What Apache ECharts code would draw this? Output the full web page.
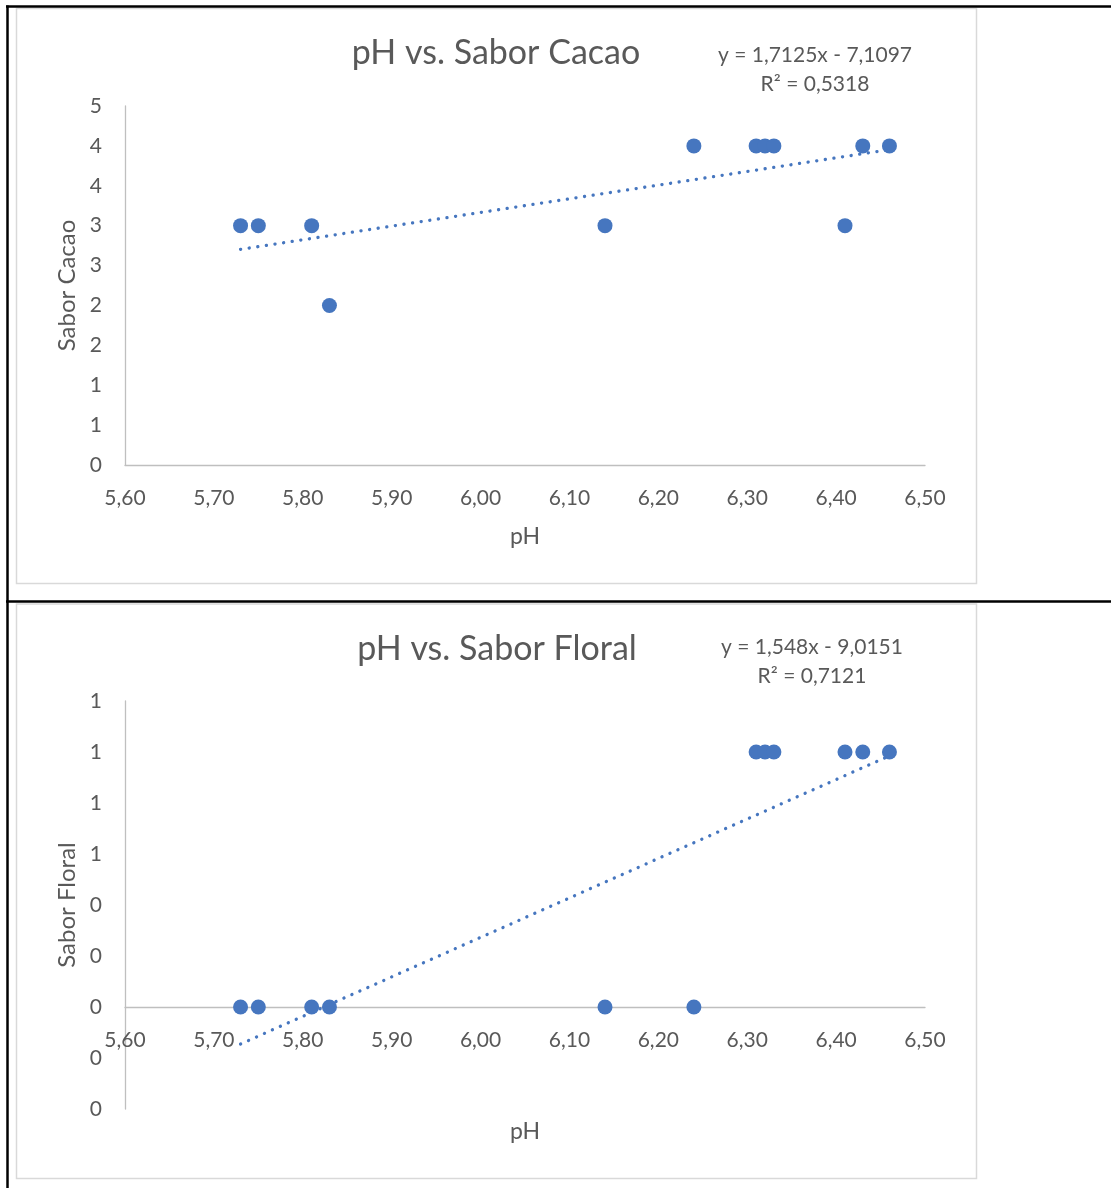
<!DOCTYPE html>
<html>
<head>
<meta charset="utf-8">
<script src="https://cdn.jsdelivr.net/npm/echarts@6/dist/echarts.min.js"></script>
<style>
  html, body { margin: 0; padding: 0; background: #ffffff; }
  #chart { width: 1111px; height: 1188px; }
</style>
</head>
<body>
<div id="chart"></div>
<script>
// ---- data ----
const phValues      = [5.73, 5.75, 5.81, 5.83, 6.14, 6.24, 6.31, 6.32, 6.33, 6.41, 6.43, 6.46];
const saborCacao    = [3, 3, 3, 2, 3, 4, 4, 4, 4, 3, 4, 4];
const saborFloral   = [0, 0, 0, 0, 0, 0, 1, 1, 1, 1, 1, 1];
const trendCacao    = [1.7125, -7.1097];   // slope, intercept (from the chart's equation)
const trendFloral   = [1.548, -9.0151];
const eqCacao       = ['y = 1,7125x - 7,1097', 'R² = 0,5318'];
const eqFloral      = ['y = 1,548x - 9,0151', 'R² = 0,7121'];
const titles        = ['pH vs. Sabor Cacao', 'pH vs. Sabor Floral'];
const yNames        = ['Sabor Cacao', 'Sabor Floral'];
const xName         = 'pH';

// ---- build ----
const FONT = 'Lato';
const TXT = '#595959';
const AX = '#bfbfbf';
const BLUE = '#4676bf';

function pairs(xs, ys) { return xs.map((x, i) => [x, ys[i]]); }
function trend(coef, xs) {
  const lo = Math.min(...xs), hi = Math.max(...xs);
  return [[lo, coef[0] * lo + coef[1]], [hi, coef[0] * hi + coef[1]]];
}
const xFmt = v => v.toFixed(2).replace('.', ',');
const yFmt = v => String(Math.round(v) === 0 ? 0 : Math.round(v));

function xAxis(idx, nameGap, offset) {
  return {
    type: 'value', gridIndex: idx, min: 5.6, max: 6.5, interval: 0.1, offset: offset,
    name: xName, nameLocation: 'middle', nameGap: nameGap,
    nameTextStyle: { color: TXT, fontFamily: FONT, fontSize: 23 },
    axisLine: { show: true, onZero: false, lineStyle: { color: AX, width: 1.3 } },
    axisTick: { show: false }, splitLine: { show: false },
    axisLabel: { formatter: xFmt, color: TXT, fontFamily: FONT, fontSize: 21, margin: 23,
                 showMinLabel: true, showMaxLabel: true, hideOverlap: false }
  };
}
function yAxis(idx, min, max, interval) {
  return {
    type: 'value', gridIndex: idx, min: min, max: max, interval: interval,
    name: yNames[idx], nameLocation: 'middle', nameRotate: 90, nameGap: 46,
    nameTextStyle: { color: TXT, fontFamily: FONT, fontSize: 24 },
    axisLine: { show: true, onZero: false, lineStyle: { color: AX, width: 1.3 } },
    axisTick: { show: false }, splitLine: { show: false },
    axisLabel: { formatter: yFmt, color: TXT, fontFamily: FONT, fontSize: 21, margin: 23,
                 showMinLabel: true, showMaxLabel: true, hideOverlap: false }
  };
}
function eqText(lines, cx, y1, y2) {
  return [
    { type: 'text', x: cx, y: y1, style: { text: lines[0], fill: TXT, font: '21px ' + FONT, align: 'center', verticalAlign: 'middle' } },
    { type: 'text', x: cx, y: y2, style: { text: lines[1], fill: TXT, font: '21px ' + FONT, align: 'center', verticalAlign: 'middle' } }
  ];
}

const option = {
  animation: false,
  backgroundColor: '#ffffff',
  title: [
    { text: titles[0], left: 491, top: 31, textAlign: 'center',
      textStyle: { color: TXT, fontFamily: FONT, fontSize: 34, fontWeight: 'normal' } },
    { text: titles[1], left: 492, top: 627, textAlign: 'center',
      textStyle: { color: TXT, fontFamily: FONT, fontSize: 34, fontWeight: 'normal' } }
  ],
  grid: [
    { left: 125, top: 106, width: 800, height: 359, containLabel: false, outerBoundsMode: 'none' },
    { left: 125, top: 701, width: 800, height: 408, containLabel: false, outerBoundsMode: 'none' }
  ],
  xAxis: [xAxis(0, 60, 0), xAxis(1, 113, -102)],
  yAxis: [yAxis(0, 0, 4.5, 0.5), yAxis(1, -0.4, 1.2, 0.2)],
  series: [
    { type: 'scatter', xAxisIndex: 0, yAxisIndex: 0, data: pairs(phValues, saborCacao),
      symbol: 'circle', symbolSize: 15, itemStyle: { color: BLUE, opacity: 1 }, z: 2 },
    { type: 'line', xAxisIndex: 0, yAxisIndex: 0, data: trend(trendCacao, phValues),
      showSymbol: false, symbol: 'none', z: 3,
      lineStyle: { color: BLUE, width: 3.3, type: [0.1, 8.6], cap: 'round' } },
    { type: 'scatter', xAxisIndex: 1, yAxisIndex: 1, data: pairs(phValues, saborFloral),
      symbol: 'circle', symbolSize: 15, itemStyle: { color: BLUE, opacity: 1 }, z: 2 },
    { type: 'line', xAxisIndex: 1, yAxisIndex: 1, data: trend(trendFloral, phValues),
      showSymbol: false, symbol: 'none', z: 3,
      lineStyle: { color: BLUE, width: 3.3, type: [0.1, 8.6], cap: 'round' } }
  ],
  graphic: [
    // chart frames
    { type: 'rect', silent: true, z: -10, shape: { x: 16.5, y: 8.5, width: 960, height: 575 },
      style: { fill: '#ffffff', stroke: '#d9d9d9', lineWidth: 1.5 } },
    { type: 'rect', silent: true, z: -10, shape: { x: 16.5, y: 604, width: 960, height: 574.5 },
      style: { fill: '#ffffff', stroke: '#d9d9d9', lineWidth: 1.5 } },
    // table borders
    { type: 'line', silent: true, z: 50, shape: { x1: 6, y1: 6.5, x2: 1111, y2: 6.5 }, style: { stroke: '#000', lineWidth: 2.5 } },
    { type: 'line', silent: true, z: 50, shape: { x1: 7.5, y1: 5.5, x2: 7.5, y2: 1188 }, style: { stroke: '#000', lineWidth: 2.5 } },
    { type: 'line', silent: true, z: 50, shape: { x1: 6, y1: 601.5, x2: 1111, y2: 601.5 }, style: { stroke: '#000', lineWidth: 2.5 } },
    ...eqText(eqCacao, 815, 55, 84),
    ...eqText(eqFloral, 812, 647, 676)
  ]
};

const chart = echarts.init(document.getElementById('chart'), null, { renderer: 'canvas' });
chart.setOption(option);
</script>
</body>
</html>
